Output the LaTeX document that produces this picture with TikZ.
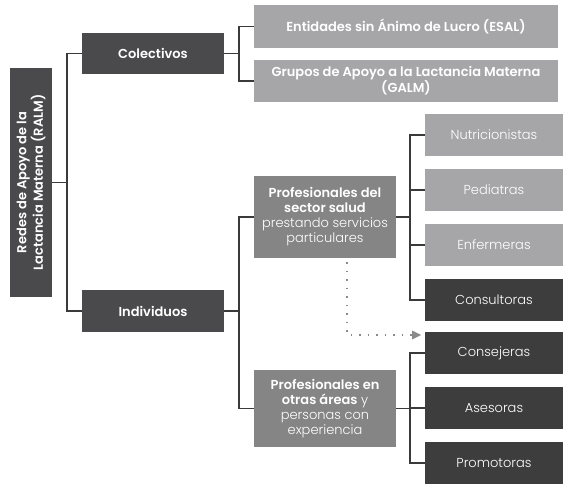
\documentclass[tikz,border=0pt]{standalone}
\usepackage{fontspec}
\setmainfont{Poppins}[UprightFont=* Light, BoldFont=* SemiBold]
\usetikzlibrary{arrows.meta}
\definecolor{darkbox}{HTML}{4A4A4C}
\definecolor{darkerbox}{HTML}{3D3D3D}
\definecolor{lightbox}{HTML}{A6A6A8}
\definecolor{midbox}{HTML}{858585}
\definecolor{linecol}{HTML}{3A3A3A}
\definecolor{dotcol}{HTML}{8A8A8A}
\tikzset{
  box/.style={inner sep=0pt, outer sep=0pt, align=center, text=white, font=\fontsize{13}{15}\selectfont},
  darkb/.style={box, fill=darkbox, font=\fontsize{13}{16}\selectfont\bfseries},
  lightb/.style={box, fill=lightbox, font=\fontsize{13}{16}\selectfont\bfseries},
  midb/.style={box, fill=midbox, font=\fontsize{13}{15}\selectfont},
  leafl/.style={box, fill=lightbox, minimum width=138pt, minimum height=42pt},
  leafd/.style={box, fill=darkerbox, minimum width=138pt, minimum height=42pt},
  conn/.style={draw=linecol, line width=1.5pt},
  dotline/.style={draw=dotcol, line width=1.6pt, dash pattern=on 1.6pt off 6.9pt},
}
\begin{document}
\begin{tikzpicture}[x=1pt,y=-1pt]
\useasboundingbox (0,0) rectangle (565,484);
% root
\node[darkb, fill=darkbox, minimum width=42pt, minimum height=229pt] (root) at (31,182.5) {};
\node[box, font=\fontsize{13}{15}\selectfont\bfseries, rotate=90] (roottxt) at (root.center) {Redes de Apoyo de la\\Lactancia Materna (RALM)};
% second level
\node[darkb, minimum width=142pt, minimum height=41pt] (col) at (153,53.5) {Colectivos};
\node[darkb, minimum width=142pt, minimum height=42pt] (ind) at (153,311) {Individuos};
% collectives
\node[lightb, minimum width=304pt, minimum height=43pt] (esal) at (406,26.5) {Entidades sin Ánimo de Lucro (ESAL)};
\node[lightb, minimum width=304pt, minimum height=42pt] (galm) at (406,81) {Grupos de Apoyo a la Lactancia Materna\\(GALM)};
% individuals
\node[midb, minimum width=142pt, minimum height=82pt] (salud) at (325,217) {\textbf{Profesionales del}\\\textbf{sector salud}\\prestando servicios\\particulares};
\node[midb, minimum width=142pt, minimum height=77pt] (otras) at (325,408.5) {\textbf{Profesionales en}\\\textbf{otras áreas} y\\personas con\\experiencia};
% leaves
\node[leafl] (nutri) at (494,135) {Nutricionistas};
\node[leafl] (pedi) at (494,190) {Pediatras};
\node[leafl] (enf) at (494,245) {Enfermeras};
\node[leafd] (cons) at (494,300) {Consultoras};
\node[leafd] (consej) at (494,353) {Consejeras};
\node[leafd] (ases) at (494,408) {Asesoras};
\node[leafd] (prom) at (494,463) {Promotoras};
% connectors
\draw[conn] (root.east) -- ++(15,0) |- (col.west);
\draw[conn] (root.east) -- ++(15,0) |- (ind.west);
\draw[conn] (col.east) -- ++(15,0) |- (esal.west);
\draw[conn] (col.east) -- ++(15,0) |- (galm.west);
\draw[conn] (ind.east) -- ++(15,0) |- (salud.west);
\draw[conn] (ind.east) -- ++(15,0) |- (otras.west);
\foreach \t in {nutri,pedi,enf,cons}
  \draw[conn] (salud.east) -- ++(14,0) |- (\t.west);
\foreach \t in {consej,ases,prom}
  \draw[conn] (otras.east) -- ++(14,0) |- (\t.west);
% dotted arrow
\coordinate (dstart) at (347,262);
\coordinate (dend) at (421,335);
\draw[dotline] (dstart) |- (412,335);
\fill[dotcol] (dend) -- ++(-9,-4.5) -- ++(0,9) -- cycle;
\end{tikzpicture}
\end{document}
